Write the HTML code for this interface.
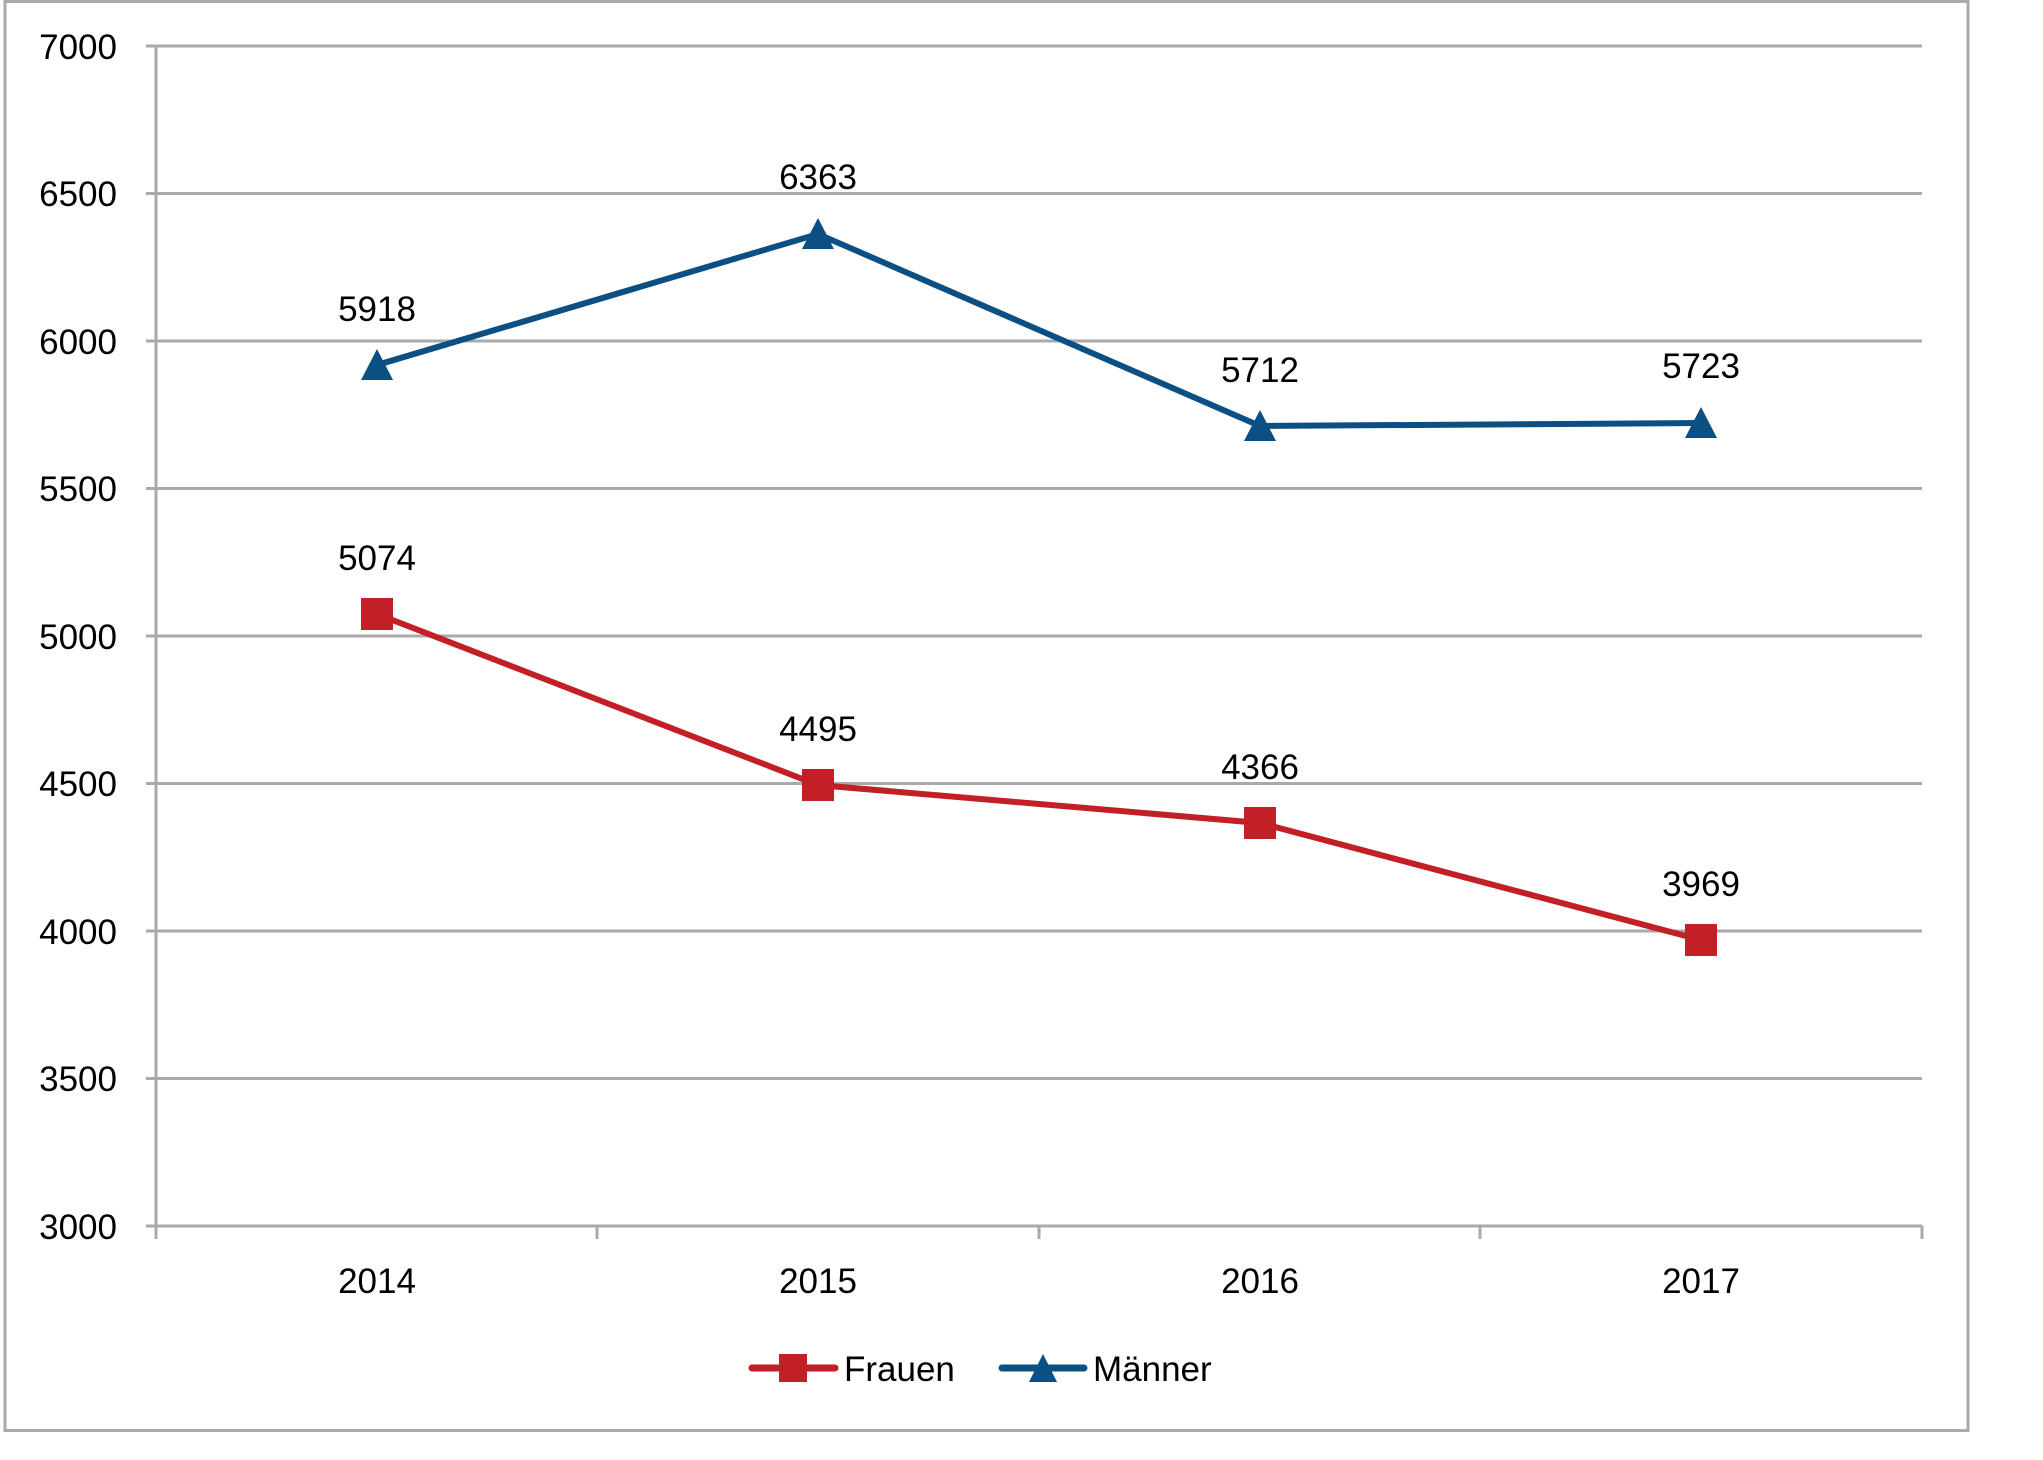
<!DOCTYPE html>
<html><head><meta charset="utf-8"><style>
html,body{margin:0;padding:0;background:#fff;}
svg{display:block;}
text{font-family:"Liberation Sans",sans-serif;font-size:35px;fill:#000;}
</style></head><body>
<svg width="2043" height="1460" viewBox="0 0 2043 1460" xmlns="http://www.w3.org/2000/svg">
<rect x="5" y="1.5" width="1963" height="1429" fill="#fff" stroke="#aaa" stroke-width="3"/>
<g stroke="#aaa" stroke-width="3">
<line x1="146" y1="46" x2="1922" y2="46"/>
<line x1="146" y1="193.5" x2="1922" y2="193.5"/>
<line x1="146" y1="341" x2="1922" y2="341"/>
<line x1="146" y1="488.5" x2="1922" y2="488.5"/>
<line x1="146" y1="636" x2="1922" y2="636"/>
<line x1="146" y1="783.5" x2="1922" y2="783.5"/>
<line x1="146" y1="931" x2="1922" y2="931"/>
<line x1="146" y1="1078.5" x2="1922" y2="1078.5"/>
<line x1="146" y1="1226" x2="1922" y2="1226"/>
<line x1="156" y1="46" x2="156" y2="1239"/>
<line x1="597" y1="1226" x2="597" y2="1239"/>
<line x1="1039" y1="1226" x2="1039" y2="1239"/>
<line x1="1480" y1="1226" x2="1480" y2="1239"/>
<line x1="1922" y1="1226" x2="1922" y2="1239"/>
</g>
<g text-anchor="end">
<text x="117" y="59">7000</text>
<text x="117" y="206">6500</text>
<text x="117" y="354">6000</text>
<text x="117" y="501">5500</text>
<text x="117" y="649">5000</text>
<text x="117" y="796">4500</text>
<text x="117" y="944">4000</text>
<text x="117" y="1091">3500</text>
<text x="117" y="1239">3000</text>
</g>
<g text-anchor="middle">
<text x="377" y="1293">2014</text>
<text x="818" y="1293">2015</text>
<text x="1260" y="1293">2016</text>
<text x="1701" y="1293">2017</text>
</g>
<polyline points="377,365 818,234 1260,426 1701,423" fill="none" stroke="#0B4F83" stroke-width="6"/>
<g fill="#0B4F83">
<polygon points="377,349 361,380 393,380"/>
<polygon points="818,218 802,249 834,249"/>
<polygon points="1260,410 1244,441 1276,441"/>
<polygon points="1701,407 1685,438 1717,438"/>
</g>
<polyline points="377,614 818,785 1260,823 1701,940" fill="none" stroke="#C22026" stroke-width="6"/>
<g fill="#C22026">
<rect x="361" y="598" width="32" height="32"/>
<rect x="802" y="769" width="32" height="32"/>
<rect x="1244" y="807" width="32" height="32"/>
<rect x="1685" y="924" width="32" height="32"/>
</g>
<g text-anchor="middle">
<text x="377" y="321">5918</text>
<text x="818" y="189">6363</text>
<text x="1260" y="382">5712</text>
<text x="1701" y="378">5723</text>
<text x="377" y="570">5074</text>
<text x="818" y="741">4495</text>
<text x="1260" y="779">4366</text>
<text x="1701" y="896">3969</text>
</g>
<line x1="752" y1="1368" x2="835" y2="1368" stroke="#C22026" stroke-width="7" stroke-linecap="round"/>
<rect x="779" y="1354" width="28" height="28" fill="#C22026"/>
<text x="844" y="1381">Frauen</text>
<line x1="1002" y1="1368" x2="1084" y2="1368" stroke="#0B4F83" stroke-width="7" stroke-linecap="round"/>
<polygon points="1043,1354 1029,1382 1057,1382" fill="#0B4F83"/>
<text x="1093" y="1381">Männer</text>
</svg>
</body></html>
